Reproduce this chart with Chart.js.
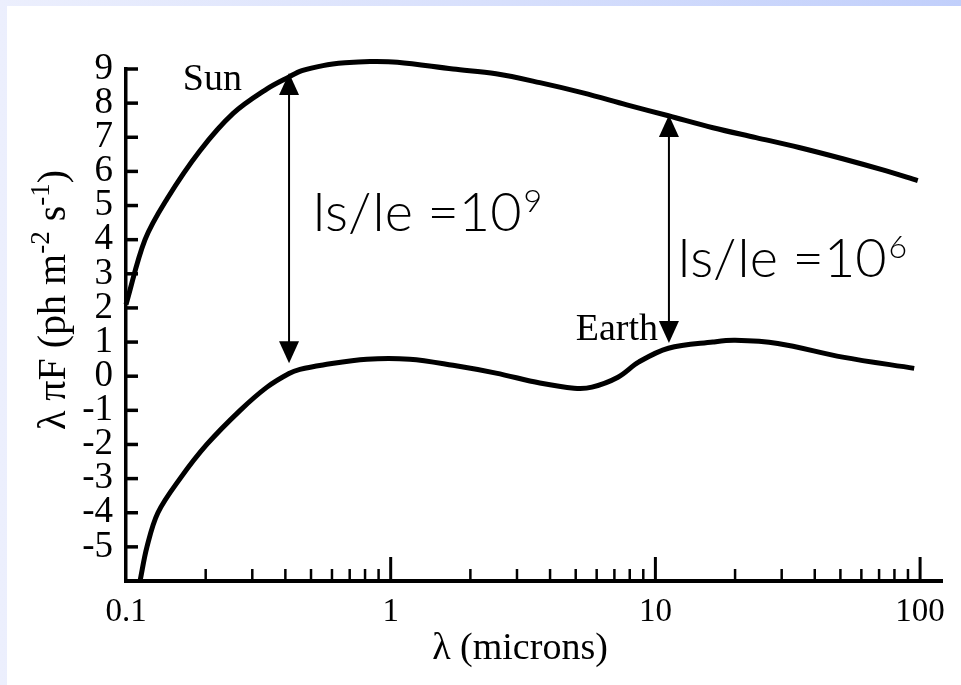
<!DOCTYPE html>
<html><head><meta charset="utf-8">
<script src="https://cdn.jsdelivr.net/npm/chart.js@4.4.1/dist/chart.umd.min.js"></script>
<style>
html,body{margin:0;padding:0;width:961px;height:685px;overflow:hidden;}
body{background:linear-gradient(to right,#eceffd 0%,#d8e0fc 50%,#c1cffb 100%);position:relative;}
#wrap{position:absolute;left:7px;top:6px;width:954px;height:679px;background:#fff;}
canvas{display:block;}
</style></head><body><div id="wrap"><canvas id="c" width="954" height="679"></canvas></div>
<script>
// ---- data ----
const xTickLabels = [0.1, 1, 10, 100];
const xMajorTicks = [1, 10, 100];
const xMinorTicks = [0.2,0.3,0.4,0.5,0.6,0.7,0.8,0.9, 2,3,4,5,6,7,8,9, 20,30,40,50,60,70,80,90];
const yTickValues = [-5,-4,-3,-2,-1,0,1,2,3,4,5,6,7,8,9];

const sunLambda = [0.1, 0.118, 0.143, 0.19, 0.254, 0.341, 0.413, 0.462, 0.555, 0.672, 0.835, 1.06, 1.72, 2.5, 3.66, 5.33, 7.8, 11.2, 16.5, 24, 34.9, 51, 74, 98];
const sunFlux   = [2.1, 4.0, 5.2, 6.6, 7.7, 8.42, 8.77, 8.95, 9.1, 9.18, 9.22, 9.2, 9.0, 8.86, 8.6, 8.3, 7.95, 7.63, 7.28, 6.99, 6.7, 6.37, 6.02, 5.73];

const earthLambda = [0.113, 0.120, 0.132, 0.160, 0.202, 0.270, 0.341, 0.413, 0.454, 0.555, 0.813, 1.18, 1.72, 2.5, 3.66, 4.93, 5.76, 7.22, 8.67, 11.2, 16.5, 20, 29, 51, 95];
const earthFlux   = [-6.0, -5.0, -4.0, -3.0, -2.0, -1.0, -0.32, 0.08, 0.2, 0.33, 0.5, 0.5, 0.32, 0.09, -0.2, -0.35, -0.32, -0.03, 0.42, 0.82, 1.0, 1.05, 0.96, 0.56, 0.23];

const curveNames  = ['Sun', 'Earth'];
const nameLambda  = [0.164, 10.23];
const nameFlux    = [8.38, 1.06];

const arrowLambda = [0.413, 11.25];
const arrowFrom   = [8.88, 7.65];
const arrowTo     = [0.38, 0.97];

const ratioText   = ['Is/Ie =10', 'Is/Ie =10'];
const ratioExp    = ['9', '6'];
const ratioLambda = [0.504, 12.07];
const ratioFlux   = [4.25, 2.9];

const xTitle = 'λ (microns)';
const yTitleParts = [['λ πF (ph m', false], ['-2', true], [' s', false], ['-1', true], [')', false]];

// ---- chart ----
const SERIF = '"Liberation Serif", "Times New Roman", serif';
const SANS = 'Lato, "Open Sans", sans-serif';

function toPts(xs, ys){ return xs.map((x,i)=>({x:x, y:ys[i]})); }

const decor = {
  id: 'decor',
  afterDraw(chart){
    const ctx = chart.ctx, xs = chart.scales.x, ys = chart.scales.y, ca = chart.chartArea;
    ctx.save();
    ctx.strokeStyle = '#000'; ctx.fillStyle = '#000';
    // y ticks (inward)
    ctx.lineWidth = 3.5;
    yTickValues.forEach(v=>{
      const py = ys.getPixelForValue(v);
      ctx.beginPath(); ctx.moveTo(ca.left, py); ctx.lineTo(ca.left+12, py); ctx.stroke();
    });
    // x ticks (inward)
    ctx.lineWidth = 2.5;
    xMinorTicks.forEach(v=>{
      const px = xs.getPixelForValue(v);
      ctx.beginPath(); ctx.moveTo(px, ca.bottom); ctx.lineTo(px, ca.bottom-12); ctx.stroke();
    });
    ctx.lineWidth = 3;
    xMajorTicks.forEach(v=>{
      const px = xs.getPixelForValue(v);
      ctx.beginPath(); ctx.moveTo(px, ca.bottom); ctx.lineTo(px, ca.bottom-24); ctx.stroke();
    });
    // arrows
    arrowLambda.forEach((l,i)=>{
      const px = xs.getPixelForValue(l);
      const y1 = ys.getPixelForValue(arrowFrom[i]);
      const y2 = ys.getPixelForValue(arrowTo[i]);
      const hl = 22, hw = 10;
      ctx.lineWidth = 2;
      ctx.beginPath(); ctx.moveTo(px, y1+hl-2); ctx.lineTo(px, y2-hl+2); ctx.stroke();
      ctx.beginPath(); ctx.moveTo(px, y1); ctx.lineTo(px-hw, y1+hl); ctx.lineTo(px+hw, y1+hl); ctx.closePath(); ctx.fill();
      ctx.beginPath(); ctx.moveTo(px, y2); ctx.lineTo(px-hw, y2-hl); ctx.lineTo(px+hw, y2-hl); ctx.closePath(); ctx.fill();
    });
    // curve names
    ctx.font = '38px ' + SERIF;
    ctx.textBaseline = 'alphabetic';
    curveNames.forEach((n,i)=>{
      ctx.textAlign = i === 0 ? 'left' : 'right';
      ctx.fillText(n, xs.getPixelForValue(nameLambda[i]), ys.getPixelForValue(nameFlux[i]));
    });
    // ratio labels
    ctx.textAlign = 'left';
    ratioText.forEach((t,i)=>{
      const px = xs.getPixelForValue(ratioLambda[i]);
      const py = ys.getPixelForValue(ratioFlux[i]);
      ctx.font = '300 54px ' + SANS;
      ctx.fillText(t, px, py);
      const w = ctx.measureText(t).width;
      ctx.font = '300 32px ' + SANS;
      ctx.fillText(ratioExp[i], px + w + 2, py - 19);
    });
    // x title
    ctx.font = '38px ' + SERIF;
    ctx.textAlign = 'center';
    ctx.fillText(xTitle, (ca.left+ca.right)/2 - 14, ca.bottom + 78);
    // y title (rotated)
    ctx.translate(58, (ca.top+ca.bottom)/2 - 25);
    ctx.rotate(-Math.PI/2);
    const fN = '40px ' + SERIF, fS = '27px ' + SERIF;
    let total = 0;
    yTitleParts.forEach(([s,sup])=>{ ctx.font = sup ? fS : fN; total += ctx.measureText(s).width; });
    let cx = -total/2;
    ctx.textAlign = 'left';
    yTitleParts.forEach(([s,sup])=>{
      ctx.font = sup ? fS : fN;
      ctx.fillText(s, cx, sup ? -16 : 0);
      cx += ctx.measureText(s).width;
    });
    ctx.restore();
  }
};

new Chart(document.getElementById('c'), {
  type: 'line',
  data: {
    datasets: [
      { label: 'Sun', data: toPts(sunLambda, sunFlux), borderColor: '#000', borderWidth: 5, pointRadius: 0, fill: false, tension: 0.35, clip: 20 },
      { label: 'Earth', data: toPts(earthLambda, earthFlux), borderColor: '#000', borderWidth: 5, pointRadius: 0, fill: false, tension: 0.35, clip: 20 }
    ]
  },
  options: {
    responsive: false,
    animation: false,
    devicePixelRatio: 1,
    layout: { padding: { top: 63, right: 19, left: 0, bottom: 0 } },
    plugins: { legend: { display: false }, tooltip: { enabled: false } },
    scales: {
      x: {
        type: 'logarithmic', min: 0.1, max: 121,
        grid: { display: false, drawTicks: false },
        border: { display: true, color: '#000', width: 4 },
        afterBuildTicks: s => { s.ticks = xTickLabels.map(v=>({value:v})); },
        afterFit: s => { s.height = 104; },
        ticks: { color: '#000', font: { family: SERIF, size: 33 }, padding: 12, autoSkip: false, maxRotation: 0,
                 callback: v => String(v) }
      },
      y: {
        type: 'linear', min: -6, max: 9,
        grid: { display: false, drawTicks: false },
        border: { display: true, color: '#000', width: 3.5 },
        afterBuildTicks: s => { s.ticks = yTickValues.map(v=>({value:v})); },
        afterFit: s => { s.width = 119; },
        ticks: { color: '#000', font: { family: SERIF, size: 37 }, padding: 13, autoSkip: false, callback: v => String(v) }
      }
    }
  },
  plugins: [decor]
});
</script>
</body></html>
